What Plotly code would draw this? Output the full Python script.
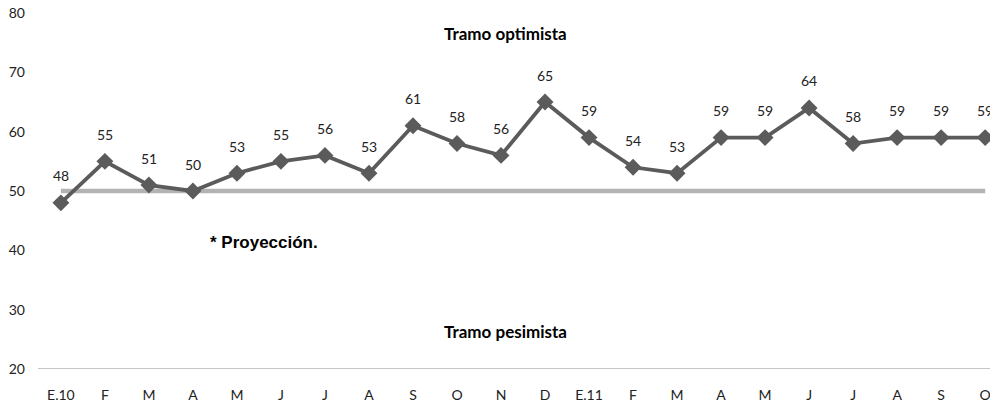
import plotly.graph_objects as go

categories = ["E.10", "F", "M", "A", "M", "J", "J", "A", "S", "O", "N", "D",
              "E.11", "F", "M", "A", "M", "J", "J", "A", "S", "O"]
values = [48, 55, 51, 50, 53, 55, 56, 53, 61, 58, 56, 65,
          59, 54, 53, 59, 59, 64, 58, 59, 59, 59]
reference = [50] * len(categories)
y_ticks = [20, 30, 40, 50, 60, 70, 80]

xs = list(range(len(categories)))
FONT = "Lato, Open Sans, sans-serif"

fig = go.Figure()
fig.add_trace(go.Scatter(x=xs, y=reference, mode="lines",
                         line=dict(color="#b3b3b3", width=4.5),
                         hoverinfo="skip", showlegend=False))
fig.add_trace(go.Scatter(x=xs, y=values, mode="lines+markers",
                         line=dict(color="#5b5b5b", width=3.8),
                         marker=dict(symbol="diamond", size=13, color="#5b5b5b"),
                         showlegend=False, cliponaxis=False))

annotations = []
for x, v in zip(xs, values):
    annotations.append(dict(x=x, y=v, text=str(v), showarrow=False,
                            yshift=27, font=dict(family=FONT, size=14, color="#222")))
annotations.append(dict(x=10.1, y=76.6, text="<b>Tramo optimista</b>", showarrow=False,
                        font=dict(family=FONT, size=17, color="#000")))
annotations.append(dict(x=10.1, y=26.4, text="<b>Tramo pesimista</b>", showarrow=False,
                        font=dict(family=FONT, size=17, color="#000")))
annotations.append(dict(x=3.34, y=41.4, text="<b>* Proyección.</b>", showarrow=False,
                        xanchor="left",
                        font=dict(family="Liberation Sans, Arial, sans-serif", size=17, color="#000")))

fig.update_layout(
    width=990, height=417,
    margin=dict(l=38, r=0, t=13, b=48, autoexpand=False),
    paper_bgcolor="white", plot_bgcolor="white",
    annotations=annotations,
    font=dict(family=FONT, size=14, color="#222"),
)
fig.update_xaxes(range=[-0.52, 21.11], tickvals=xs, ticktext=categories,
                 showgrid=False, zeroline=False, showline=False,
                 ticks="", tickfont=dict(size=14), automargin=False,
                 ticklabelstandoff=16, ticklabeloverflow="allow")
fig.update_yaxes(range=[20, 80], tickvals=y_ticks, showgrid=False,
                 zeroline=False, showline=False, ticks="",
                 tickfont=dict(size=14), automargin=False,
                 ticklabelstandoff=12, ticklabeloverflow="allow")
# bottom axis line at y=20
fig.add_shape(type="line", xref="paper", yref="y", x0=0, x1=1, y0=20, y1=20,
              line=dict(color="#8c8c8c", width=1.2))

fig.write_html("out.html", config={"displayModeBar": False},
               post_script="document.body.style.margin='0';document.body.style.overflow='hidden';")
